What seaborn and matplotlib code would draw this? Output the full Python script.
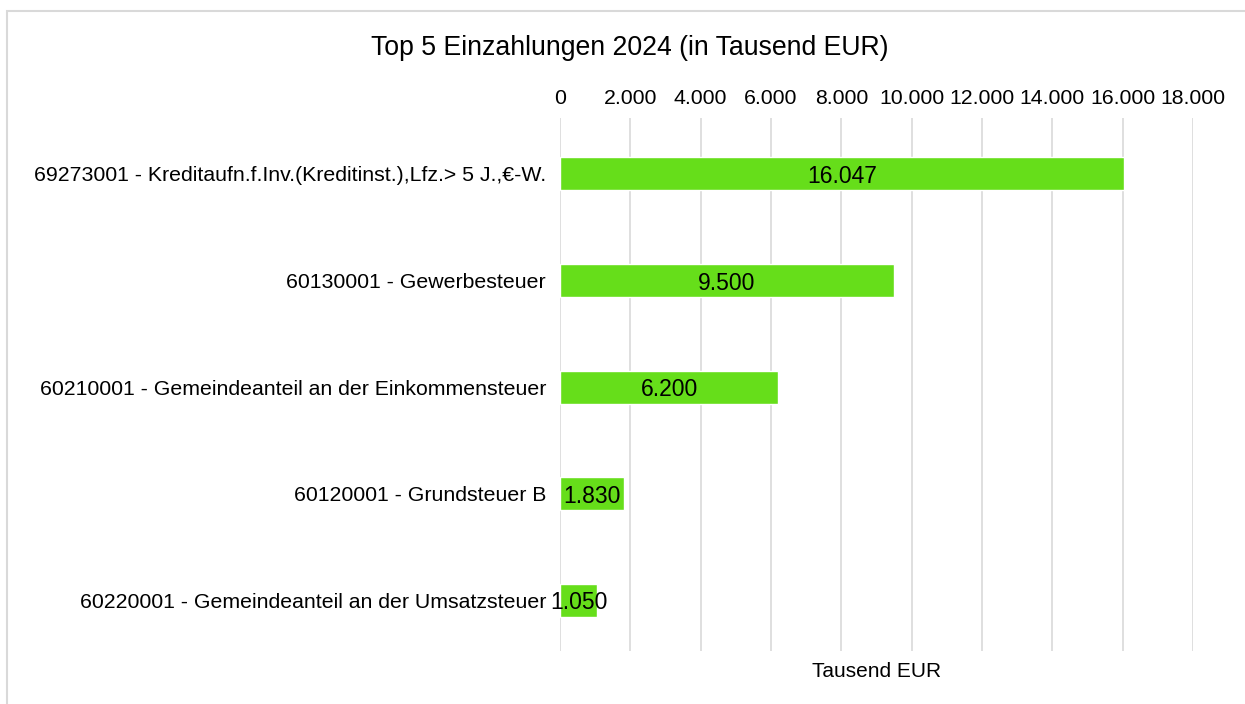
import matplotlib
matplotlib.use("Agg")
import matplotlib.pyplot as plt
from matplotlib.patches import Rectangle
from matplotlib.ticker import FuncFormatter
import seaborn as sns
import pandas as pd

# Top five cash receipts 2024, in thousand EUR
categories = [
    "69273001 - Kreditaufn.f.Inv.(Kreditinst.),Lfz.> 5 J.,€-W.",
    "60130001 - Gewerbesteuer",
    "60210001 - Gemeindeanteil an der Einkommensteuer",
    "60120001 - Grundsteuer B",
    "60220001 - Gemeindeanteil an der Umsatzsteuer",
]
values = [16047, 9500, 6200, 1830, 1050]
x_ticks = [0, 2000, 4000, 6000, 8000, 10000, 12000, 14000, 16000, 18000]

title = "Top 5 Einzahlungen 2024 (in Tausend EUR)"
x_label = "Tausend EUR"

sns.set_theme(style="white")
plt.rcParams["font.family"] = ["Liberation Sans", "DejaVu Sans"]


def de_format(v, _pos=None):
    return f"{v:,.0f}".replace(",", ".")


df = pd.DataFrame({"Konto": categories, "Betrag": values})

fig = plt.figure(figsize=(12.45, 7.04), dpi=100)
ax = fig.add_axes([0.4498, 0.0753, 0.5084, 0.7571])

sns.barplot(data=df, x="Betrag", y="Konto", orient="h", color="#66DE1A",
            saturation=1, width=0.31, ax=ax)

ax.set_xlim(0, 18000)
ax.set_ylim(4.475, -0.525)
ax.set_xticks(x_ticks)
ax.xaxis.set_major_formatter(FuncFormatter(de_format))
ax.xaxis.tick_top()
ax.tick_params(axis="x", length=0, pad=7.5, labelsize=15.3, colors="black")
ax.tick_params(axis="y", length=0, pad=10, labelsize=15.3, colors="black")
ax.set_ylabel("")
ax.set_xlabel(x_label, fontsize=15, color="black", labelpad=8)
ax.xaxis.set_label_position("bottom")

ax.grid(axis="x", color="#d9d9d9", linewidth=1.2)
ax.grid(axis="y", visible=False)
ax.set_axisbelow(True)
for s in ax.spines.values():
    s.set_visible(False)

value_texts = ax.bar_label(ax.containers[0],
                           labels=[de_format(v) for v in values],
                           label_type="center", fontsize=16.5, color="black")
for t in value_texts:
    t.set_va("center_baseline")

fig.text(0.506, 1 - 48 / 704, title, ha="center", va="center",
         fontsize=19.2, color="black")

# light frame around the chart area
fig.patches.append(Rectangle((7 / 1245, -0.05), 1.2, 1 - 11 / 704 + 0.05,
                             transform=fig.transFigure, fill=False,
                             edgecolor="#d9d9d9", linewidth=1.5))

fig.savefig("out.png", dpi=100)
